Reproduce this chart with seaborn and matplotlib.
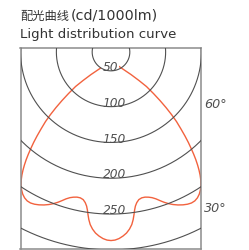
import numpy as np
import pandas as pd
import matplotlib
matplotlib.use("Agg")
import matplotlib.pyplot as plt
import seaborn as sns

# ---------------- DATA ---------------- #

title_cn = "配光曲线"
title_unit = "(cd/1000lm)"
title_en = "Light distribution curve"

# grid rings (cd) and the ones that carry a label
ring_values = [50, 100, 150, 200, 250, 300]
ring_labels = ["50", "100", "150", "200", "250"]

angle_marks = [60, 30]
angle_labels = ["60°", "30°"]

# right half of the curve, angle from nadir (deg) -> intensity
curve_angle = [0, 1.28, 2.58, 3.92, 5.15, 6.28, 7.25, 7.97, 8.52, 9.0,
               9.55, 10.33, 11.34, 12.65, 14.03, 15.4, 16.71, 18.08, 19.34, 20.57,
               21.96, 23.37, 24.96, 26.6, 28.11, 29.57, 30.94, 32.28, 33.58, 34.86,
               35.94, 37.04, 38.01, 38.91, 39.79, 40.72, 41.62, 42.5, 43.52, 44.61,
               45.83, 47.27, 48.52, 49.79, 51.12, 52.59, 54.31, 55.15, 55.98, 56.0,
               56.0, 56.0]
curve_value = [250.7, 250.1, 248.2, 245.0, 241.2, 236.1, 230.2, 223.5, 216.8, 210.7,
               205.4, 200.9, 197.4, 195.8, 195.9, 197.2, 199.2, 202.5, 206.6, 210.6,
               214.7, 218.3, 221.7, 224.6, 226.7, 227.9, 227.7, 226.0, 223.0, 218.7,
               213.9, 208.2, 202.1, 195.7, 189.0, 181.5, 173.7, 165.8, 157.0, 147.2,
               136.3, 124.5, 112.8, 100.6, 87.9, 74.7, 61.0, 47.7, 33.7, 18.6,
               9.1, 0]

# ---------------- GEOMETRY ---------------- #

W, H = 249, 251
R_ORIGIN = 23.7      # radial axis starts here
LAMP_Y = -12.6       # curve origin sits a bit below the ring centre
X_LIM = (-126.4, 125.7)
Y_LIM = (-275.1, 5.2)

sns.set_style("white")
plt.rcParams["font.family"] = ["DejaVu Sans", "Noto Sans CJK SC"]

fig = plt.figure(figsize=(W / 100, H / 100), dpi=100)
ax = fig.add_axes([20.5 / W, 1 / H, 180.5 / W, 200.7 / H])

# rings
t = np.linspace(0, 2 * np.pi, 400)
rows = []
for v in ring_values:
    rr = v - R_ORIGIN
    rows.append(pd.DataFrame({"ring": v, "x": rr * np.sin(t), "y": rr * np.cos(t)}))
rings_df = pd.concat(rows, ignore_index=True)

sns.lineplot(data=rings_df, x="x", y="y", units="ring", estimator=None, sort=False,
             color="#505050", lw=0.8, ax=ax, zorder=4)

# light curve, mirrored about nadir
ang = np.array(curve_angle)
val = np.array(curve_value)
full_ang = np.concatenate([-ang[::-1], ang[1:]])
full_val = np.concatenate([val[::-1], val[1:]])
th = np.deg2rad(full_ang)
cx = full_val * np.sin(th)
cy = LAMP_Y - full_val * np.cos(th)

sns.lineplot(x=cx, y=cy, sort=False, estimator=None, color="#f2623e", lw=1.0,
             ax=ax, zorder=2)

# ring labels
for lab, v in zip(ring_labels, ring_values):
    ax.text(-11.9, -(v - R_ORIGIN) + 1.2, lab, ha="left", va="baseline",
            fontsize=8.8, style="italic", color="#505050", zorder=3,
            bbox=dict(fc="white", ec="none", pad=1.0))

# angle labels on the right edge
for a, lab in zip(angle_marks, angle_labels):
    ya = -X_LIM[1] / np.tan(np.deg2rad(a))
    ax.text(X_LIM[1] + 4.5, ya, lab, ha="left", va="center", fontsize=9.2,
            style="italic", color="#505050", clip_on=False)

ax.set_xlim(*X_LIM)
ax.set_ylim(*Y_LIM)
ax.set_xticks([])
ax.set_yticks([])
ax.set_xlabel("")
ax.set_ylabel("")
for sp in ax.spines.values():
    sp.set_color("#8c8c8c")
    sp.set_linewidth(1.1)

# titles
fig.text(20.5 / W, 1 - 19.5 / H, title_cn, ha="left", va="baseline", fontsize=8.8,
         color="#333333", family=["Noto Sans CJK SC", "DejaVu Sans"])
fig.text(70.5 / W, 1 - 19.5 / H, title_unit, ha="left", va="baseline", fontsize=10.3,
         color="#333333")
fig.text(19.5 / W, 1 - 38.3 / H, title_en, ha="left", va="baseline", fontsize=9.6,
         color="#333333")

fig.savefig("out.png", dpi=100)
